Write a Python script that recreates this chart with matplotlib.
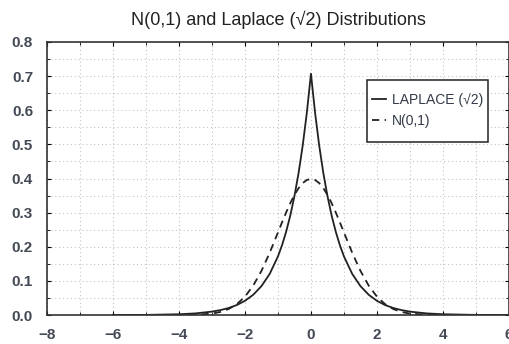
import matplotlib.pyplot as plt
from matplotlib.patches import Rectangle
from matplotlib.ticker import MultipleLocator

plt.rcParams['font.family'] = ['Liberation Sans', 'DejaVu Sans']

x = [-6, -5, -4, -3.5, -3, -2.75, -2.5, -2.25, -2, -1.75, -1.5, -1.25, -1,
     -0.875, -0.75, -0.625, -0.5, -0.375, -0.25, -0.125, 0,
     0.125, 0.25, 0.375, 0.5, 0.625, 0.75, 0.875, 1,
     1.25, 1.5, 1.75, 2, 2.25, 2.5, 2.75, 3, 3.5, 4, 5, 6]

laplace = [0.0002, 0.0006, 0.0025, 0.0050, 0.0102, 0.0145, 0.0206, 0.0293, 0.0418,
           0.0595, 0.0848, 0.1207, 0.1719, 0.2051, 0.2448, 0.2922, 0.3487, 0.4161,
           0.4965, 0.5926, 0.7071,
           0.5926, 0.4965, 0.4161, 0.3487, 0.2922, 0.2448, 0.2051, 0.1719,
           0.1207, 0.0848, 0.0595, 0.0418, 0.0293, 0.0206, 0.0145, 0.0102,
           0.0050, 0.0025, 0.0006, 0.0002]

normal = [0.0, 0.0, 0.0001, 0.0009, 0.0044, 0.0091, 0.0175, 0.0317, 0.0540,
          0.0863, 0.1295, 0.1826, 0.2420, 0.2720, 0.3011, 0.3282, 0.3521, 0.3718,
          0.3867, 0.3958, 0.3989,
          0.3958, 0.3867, 0.3718, 0.3521, 0.3282, 0.3011, 0.2720, 0.2420,
          0.1826, 0.1295, 0.0863, 0.0540, 0.0317, 0.0175, 0.0091, 0.0044,
          0.0009, 0.0001, 0.0, 0.0]

fig = plt.figure(figsize=(5.1, 3.44), dpi=100)
ax = fig.add_axes([0.092, 0.084, 0.906, 0.794])

ax.plot(x, laplace, color='#222222', lw=1.3, label='LAPLACE (\u221a2)')
ax.plot(x, normal, color='#222222', lw=1.3, ls=(0, (4, 3)), label='N(0,1)')

ax.set_xlim(-8, 6)
ax.set_ylim(0, 0.8)
ax.xaxis.set_major_locator(MultipleLocator(2))
ax.xaxis.set_minor_locator(MultipleLocator(1))
ax.yaxis.set_major_locator(MultipleLocator(0.1))
ax.yaxis.set_minor_locator(MultipleLocator(0.05))
ax.set_yticklabels([f'{v:.1f}' for v in ax.get_yticks()])
for lab in ax.get_xticklabels() + ax.get_yticklabels():
    lab.set_fontweight('bold')

ax.grid(which='both', color='#c4c4c4', ls=(0, (1, 2.5)), lw=0.8)
ax.tick_params(which='both', direction='in', top=True, right=True,
               labelsize=11, labelcolor='#444a55', length=3)
ax.tick_params(axis='x', pad=9)
ax.tick_params(axis='y', pad=10)
ax.tick_params(which='minor', length=2)
for s in ax.spines.values():
    s.set_color('#333333')
    s.set_linewidth(1.2)

ax.set_title('N(0,1) and Laplace (\u221a2) Distributions', fontsize=13,
             color='#222222', pad=12)

# legend box drawn separately so the padding can differ top/side
ax.add_patch(Rectangle((0.693, 0.634), 0.262, 0.227, transform=ax.transAxes,
                       facecolor='white', edgecolor='#222222', lw=1.1, zorder=4))
leg = ax.legend(loc='center left', bbox_to_anchor=(0.683, 0.748), fontsize=10,
                handlelength=1.0, handletextpad=0.45, frameon=False,
                labelspacing=0.5, borderpad=0.2)
leg.set_zorder(5)
for t in leg.get_texts():
    t.set_color('#333a48')

fig.savefig('out.png', dpi=100)
